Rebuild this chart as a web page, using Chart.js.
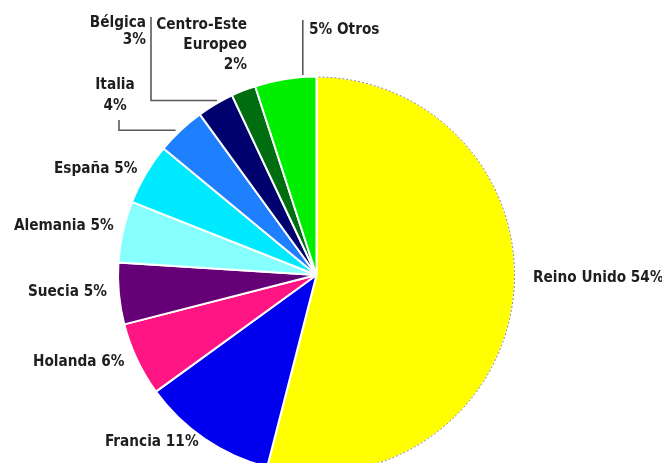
<!DOCTYPE html>
<html>
<head>
<meta charset="utf-8">
<script src="https://cdn.jsdelivr.net/npm/chart.js@4/dist/chart.umd.min.js"></script>
<style>
  html, body { margin: 0; padding: 0; background: #fff; overflow: hidden; }
  #wrap { position: relative; width: 662px; height: 480px; }
</style>
</head>
<body>
<div id="wrap"><canvas id="c" width="662" height="480"></canvas></div>
<script>
// Share by country (%)
const countries = ['Reino Unido', 'Francia', 'Holanda', 'Suecia', 'Alemania', 'España', 'Italia', 'Bélgica', 'Centro-Este Europeo', 'Otros'];
const shares = [54, 11, 6, 5, 5, 5, 4, 3, 2, 5];
const sliceColors = ['#ffff00', '#0000ee', '#ff1483', '#660077', '#88ffff', '#00eaff', '#1e80ff', '#00006e', '#006e10', '#00ee00'];

// Label text, line by line
const labelLines = [
  ['Reino Unido 54%'],
  ['Francia 11%'],
  ['Holanda 6%'],
  ['Suecia 5%'],
  ['Alemania 5%'],
  ['España 5%'],
  ['Italia', '4%'],
  ['Bélgica', '3%'],
  ['Centro-Este', 'Europeo', '2%'],
  ['5% Otros']
];

// Label placement: anchor point, alignment, line gap, optional leader line
const labelLayout = [
  { x: 533, y: 278, align: 'left' },
  { x: 105, y: 442, align: 'left' },
  { x: 33,  y: 362, align: 'left' },
  { x: 28,  y: 292, align: 'left' },
  { x: 14,  y: 226, align: 'left' },
  { x: 54,  y: 169, align: 'left' },
  { x: 115, y: 85,  align: 'center', gap: 21, leader: { x: 119, y: 120, at: 0.5 } },
  { x: 146, y: 23,  align: 'right',  gap: 17, leader: { x: 151, y: 17,  at: 0.7 } },
  { x: 247, y: 25,  align: 'right',  gap: 20 },
  { x: 309, y: 30,  align: 'left',   leader: { x: null, y: 20, at: 0.78, vertical: true } }
];

const FONT = "bold 16px 'DejaVu Sans Condensed', 'Liberation Sans Narrow', sans-serif";
const NARROW = 0.95;   // extra horizontal squeeze for the condensed lettering

const labelPlugin = {
  id: 'sliceLabels',
  afterDatasetsDraw(chart) {
    const ctx = chart.ctx;
    const arcs = chart.getDatasetMeta(0).data;
    ctx.save();

    // thin dotted rim on the largest slice
    const big = arcs[0];
    ctx.beginPath();
    ctx.arc(big.x, big.y, big.outerRadius - 0.5, big.startAngle + 0.01, big.endAngle - 0.01);
    ctx.strokeStyle = 'rgba(110, 95, 40, 0.75)';
    ctx.lineWidth = 1;
    ctx.setLineDash([2, 2]);
    ctx.stroke();
    ctx.setLineDash([]);

    // leader lines run from the label to a point on the slice edge
    ctx.strokeStyle = '#5a5a5a';
    ctx.lineWidth = 1.6;
    labelLayout.forEach((L, i) => {
      if (!L.leader) return;
      const a = arcs[i];
      const ang = a.startAngle + (a.endAngle - a.startAngle) * L.leader.at;
      const px = a.x + Math.cos(ang) * a.outerRadius;
      const py = a.y + Math.sin(ang) * a.outerRadius;
      ctx.beginPath();
      if (L.leader.vertical) {
        ctx.moveTo(px, L.leader.y);
        ctx.lineTo(px, py - 2);
      } else {
        ctx.moveTo(L.leader.x, L.leader.y);
        ctx.lineTo(L.leader.x, py);
        ctx.lineTo(px - 5, py);
      }
      ctx.stroke();
    });

    ctx.fillStyle = '#1e1e1e';
    ctx.font = FONT;
    ctx.textBaseline = 'middle';
    labelLayout.forEach((L, i) => {
      ctx.textAlign = L.align;
      labelLines[i].forEach((t, k) => {
        ctx.save();
        ctx.translate(L.x, L.y + k * (L.gap || 20));
        ctx.scale(NARROW, 1);
        ctx.fillText(t, 0, 0);
        ctx.restore();
      });
    });
    ctx.restore();
  }
};

new Chart(document.getElementById('c'), {
  type: 'pie',
  data: {
    labels: countries,
    datasets: [{
      data: shares,
      backgroundColor: sliceColors,
      borderColor: '#ffffff',
      borderWidth: 2
    }]
  },
  options: {
    responsive: false,
    animation: false,
    layout: { padding: { left: 117, right: 146, top: 75, bottom: 5 } },
    plugins: { legend: { display: false }, tooltip: { enabled: false } }
  },
  plugins: [labelPlugin]
});
</script>
</body>
</html>
